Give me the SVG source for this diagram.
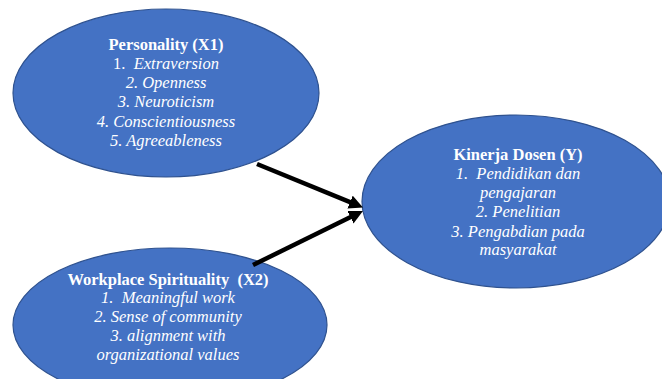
<svg xmlns="http://www.w3.org/2000/svg" width="662" height="379" viewBox="0 0 662 379">
<style>
.node{fill:#4472C4;stroke:#2F528F;stroke-width:1.2}
text{font-family:"Liberation Serif","Times New Roman",serif;font-size:16.5px;fill:#ffffff;text-anchor:middle}
.t{font-weight:bold}
.i{font-style:italic}
.n{font-style:normal}
.conn{stroke:#000000;stroke-width:4.5;fill:none}
</style>
<defs>
<marker id="ah" markerUnits="userSpaceOnUse" markerWidth="16" markerHeight="16" refX="2" refY="7" orient="auto">
<path d="M0,0 L14,7 L0,14 z" fill="#000000"/>
</marker>
</defs>
<rect width="662" height="379" fill="#ffffff"/>
<g id="personality">
<ellipse class="node" cx="166" cy="93" rx="153" ry="84"/>
<text class="t" x="166" y="50">Personality (X1)</text>
<text class="i" x="166" y="69" xml:space="preserve"><tspan class="n">1.</tspan>  Extraversion</text>
<text class="i" x="166" y="88">2. Openness</text>
<text class="i" x="166" y="107">3. Neuroticism</text>
<text class="i" x="166" y="127">4. Conscientiousness</text>
<text class="i" x="166" y="146">5. Agreeableness</text>
</g>
<g id="workplace">
<ellipse class="node" cx="170" cy="325" rx="157" ry="77"/>
<text class="t" x="168" y="285" xml:space="preserve">Workplace Spirituality  (X2)</text>
<text class="i" x="168" y="303" xml:space="preserve">1.  Meaningful work</text>
<text class="i" x="168" y="322">2. Sense of community</text>
<text class="i" x="168" y="341">3. alignment with</text>
<text class="i" x="168" y="360">organizational values</text>
</g>
<g id="kinerja">
<ellipse class="node" cx="516" cy="201.5" rx="154" ry="86.5"/>
<text class="t" x="518" y="160">Kinerja Dosen (Y)</text>
<text class="i" x="518" y="179" xml:space="preserve">1.  Pendidikan dan</text>
<text class="i" x="518" y="198">pengajaran</text>
<text class="i" x="518" y="217">2. Penelitian</text>
<text class="i" x="518" y="237">3. Pengabdian pada</text>
<text class="i" x="518" y="255">masyarakat</text>
</g>
<g id="connectors">
<line class="conn" x1="257" y1="164" x2="351.9" y2="202.9" marker-end="url(#ah)"/>
<line class="conn" x1="253" y1="265" x2="352.2" y2="216.3" marker-end="url(#ah)"/>
</g>
</svg>
